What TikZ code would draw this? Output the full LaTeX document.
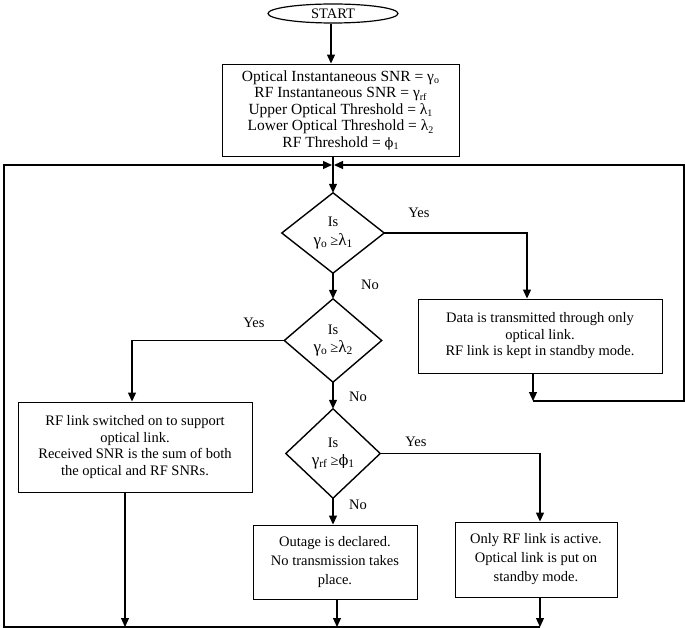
\documentclass[tikz,border=0pt]{standalone}
\usepackage{fontspec}
\setmainfont{Liberation Serif}
\newfontfamily\phifont{DejaVu Serif}
\usetikzlibrary{arrows.meta,shapes.geometric}
\newcommand\lsub[1]{\raisebox{-2.5pt}{\fontsize{10}{10}\selectfont #1}}
\newcommand\dsub[1]{\raisebox{-2pt}{\fontsize{11.5}{11.5}\selectfont #1}}
\newcommand\sphi{{\phifont\fontsize{13}{13}\selectfont ϕ}}
\newcommand\bg[1]{{\fontsize{17}{17}\selectfont #1}}
\newcommand\bphi{{\phifont\fontsize{14.5}{14.5}\selectfont ϕ}}
\begin{document}
\begin{tikzpicture}[x=1pt,y=-1pt,
  every node/.style={font=\fontsize{14.5}{16.5}\selectfont},
  box/.style={draw, line width=0.9pt, align=center, inner sep=0pt},
  conn/.style={line width=1.2pt},
  arr/.style={conn, -{Triangle[length=9pt,width=8pt]}},
  dia/.style={draw, line width=1.4pt, line join=miter},
  dnode/.style={inner sep=0pt, align=center},
  lbl/.style={inner sep=0pt}
]
\useasboundingbox (0,0) rectangle (685,628);

\node[draw, ellipse, line width=1.2pt, minimum width=130pt, minimum height=19pt, inner sep=0pt] (start) at (333,13.5) {START};

\node[box, minimum width=237pt, minimum height=92pt, font=\fontsize{15.5}{16.5}\selectfont] (init) at (340.5,110)
  {Optical Instantaneous SNR = γ\lsub{o}\\ RF Instantaneous SNR = γ\lsub{rf}\\ Upper Optical Threshold = λ\lsub{1}\\ Lower Optical Threshold = λ\lsub{2}\\ RF Threshold = \sphi\lsub{1}};

\node[dnode, minimum width=102pt, minimum height=80pt] (d1) at (333,233) {Is\\[2pt] \bg{γ}\dsub{o} ≥\bg{λ}\dsub{1}};
\draw[dia] (d1.north) -- (d1.east) -- (d1.south) -- (d1.west) -- cycle;

\node[dnode, minimum width=97pt, minimum height=83pt] (d2) at (333,340.5) {Is\\[2pt] \bg{γ}\dsub{o} ≥\bg{λ}\dsub{2}};
\draw[dia] (d2.north) -- (d2.east) -- (d2.south) -- (d2.west) -- cycle;

\node[dnode, minimum width=94pt, minimum height=89pt] (d3) at (333,453.5) {Is\\[2pt] \bg{γ}\dsub{rf} ≥\bphi\dsub{1}};
\draw[dia] (d3.north) -- (d3.east) -- (d3.south) -- (d3.west) -- cycle;

\node[box, minimum width=244pt, minimum height=74pt] (data) at (540,336)
  {Data is transmitted through only\\ optical link.\\ RF link is kept in standby mode.};

\node[box, minimum width=234pt, minimum height=90pt] (rf) at (135,447)
  {RF link switched on to support\\ optical link.\\ Received SNR is the sum of both\\ the optical and RF SNRs.};

\node[box, minimum width=164pt, minimum height=74pt, font=\fontsize{14.5}{19}\selectfont] (outage) at (335,562)
  {Outage is declared.\\ No transmission takes\\ place.};

\node[box, minimum width=162pt, minimum height=75pt, font=\fontsize{14.5}{19}\selectfont] (rfonly) at (536,559.5)
  {Only RF link is active.\\ Optical link is put on\\ standby mode.};

\node[lbl] (y1) at (419,213) {Yes};
\node[lbl] (n1) at (370,285) {No};
\node[lbl] (y2) at (254,323) {Yes};
\node[lbl] (n2) at (358,397) {No};
\node[lbl] (y3) at (416,442) {Yes};
\node[lbl] (n3) at (358,505) {No};

\coordinate (jl) at (4,165);
\coordinate (jr) at (684,165);
\coordinate (bl) at (4,627);
\coordinate (br) at (684,401);

\draw[arr] ([xshift=-2pt]start.south) -- ([xshift=-2pt]start.south |- init.north);
\draw[arr] (init.south -| d1.north) -- (d1.north);
\draw[arr] (d1.south) -- (d2.north);
\draw[arr] (d2.south) -- (d3.north);
\draw[arr] (d3.south) -- (d3.south |- outage.north);
\draw[arr] (d1.east) -| ([xshift=-13pt]data.north);
\draw[arr] (d2.west) -| ([xshift=-3pt]rf.north);
\draw[arr] (d3.east) -| ([xshift=4pt]rfonly.north);

\draw[arr] ([xshift=-7pt]data.south) -- ([xshift=-7pt]data.south |- br);
\draw[arr] ([xshift=-7pt]data.south |- br) -- (br) -- (jr) -- ([xshift=1pt]d1.north |- jr);

\draw[arr] ([xshift=-10pt]rf.south) -- ([xshift=-10pt]rf.south |- bl);
\draw[arr] ([xshift=2pt]outage.south) -- ([xshift=2pt]outage.south |- bl);
\draw[arr] ([xshift=4pt]rfonly.south) -- ([xshift=4pt]rfonly.south |- bl);
\draw[arr] ([xshift=4pt]rfonly.south |- bl) -- (bl) -- (jl) -- ([xshift=-1pt]d1.north |- jl);
\end{tikzpicture}
\end{document}
